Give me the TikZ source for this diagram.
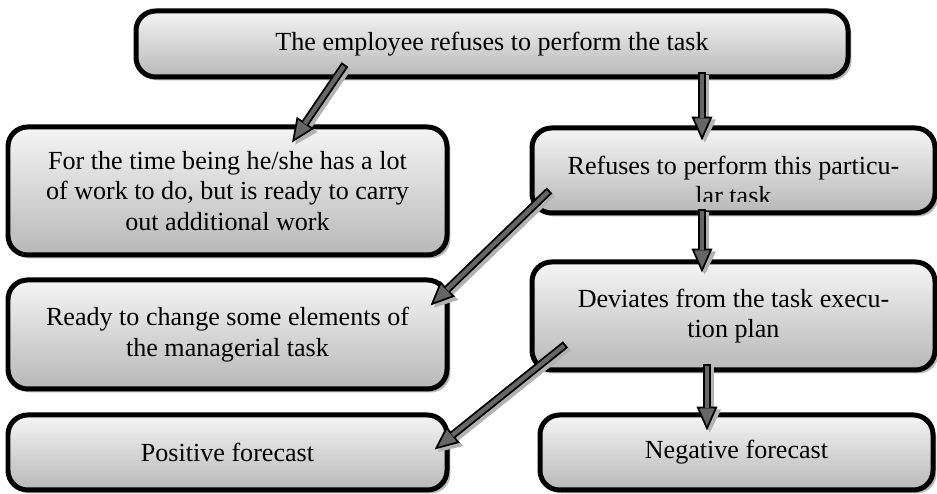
\documentclass[tikz,border=0pt]{standalone}
\usepackage{fontspec}
\setmainfont{Liberation Serif}
\usetikzlibrary{arrows.meta,shadows,calc}

\def\px{0.46pt}

\begin{document}
\begin{tikzpicture}[x=\px,y=-\px,font=\fontsize{12}{14}\selectfont]
  \tikzstyle{box}=[draw=black, line width=2.3pt, rounded corners=9pt,
    top color=black!4, bottom color=black!28, align=center, inner sep=4pt,
    drop shadow={shadow xshift=1.6pt,shadow yshift=-1.6pt,fill=black!45,opacity=0.6}]
  \tikzstyle{left box}=[box, minimum width={439*\px}]
  \tikzstyle{right box}=[box, minimum width={403*\px}]
  \tikzstyle{flow}=[draw=black, line width=3.7pt,
    -{Triangle[length=11pt,width=9.5pt,line width=0.8pt,fill=black!60]}]
  \tikzstyle{flow core}=[draw=black!60, line width=2pt, shorten >=10.5pt, shorten <=0.9pt]
  \tikzstyle{flow shadow}=[draw=black!30, line width=3.7pt,
    transform canvas={xshift=1.3pt,yshift=-1.3pt}, -{Triangle[length=11pt,width=9.5pt]}]

  \useasboundingbox (0,0) rectangle (937,494);

  % Top row
  \node[box, minimum width={712*\px}, minimum height={66*\px}] (refuse) at (492,44)
    {The employee refuses to perform the task};

  % Second row
  \node[left box, minimum height={128*\px}] (busy) at (227.5,191)
    {For the time being he/she has a lot\\of work to do, but is ready to carry\\out additional work};
  \node[right box, minimum height={85*\px}] (particular) at (733.5,170.5) {};
  \begin{scope}
    \clip (particular.north west) rectangle ($(particular.south east)+(0,-14)$);
    \node[align=center] (particular text) at ($(particular.center)+(0,10)$)
      {Refuses to perform this particu-\\lar task};
  \end{scope}

  % Third row
  \node[left box, minimum height={109*\px}] (change) at (227.5,334.5)
    {Ready to change some elements of\\the managerial task};
  \node[right box, minimum height={108*\px}] (deviate) at (733.5,316)
    {Deviates from the task execu-\\tion plan};

  % Forecasts
  \node[left box, minimum height={75*\px}] (positive) at (227.5,452.5) {Positive forecast};
  \node[box, minimum width={393*\px}, minimum height={75*\px}] (negative) at (736.5,452.5)
    {Negative forecast};

  % Arrow ends
  \coordinate (t1) at ($(refuse.south)+(-147,-15)$);
  \coordinate (h1) at ($(busy.north)+(64.5,18)$);
  \coordinate (t2) at ($(refuse.south)+(210,-7)$);
  \coordinate (h2) at ($(particular.north)+(-31.5,15)$);
  \coordinate (t3) at ($(particular.south west)+(20,-25)$);
  \coordinate (h3) at ($(change.north east)+(-19,28)$);
  \coordinate (t4) at ($(particular.south)+(-31.5,-6)$);
  \coordinate (h4) at ($(deviate.north)+(-31.5,13)$);
  \coordinate (t5) at ($(deviate.south west)+(36,-28)$);
  \coordinate (h5) at ($(positive.north east)+(-15,37)$);
  \coordinate (t6) at ($(deviate.south)+(-26.5,-8)$);
  \coordinate (h6) at ($(negative.north)+(-29.5,18)$);

  % Connect boxes
  \foreach \tail/\head in {t1/h1,t2/h2,t3/h3,t4/h4,t5/h5,t6/h6}
  {
    \draw[flow shadow] (\tail) -- (\head);
    \draw[flow] (\tail) -- (\head);
    \draw[flow core] (\tail) -- (\head);
  }
\end{tikzpicture}
\end{document}
